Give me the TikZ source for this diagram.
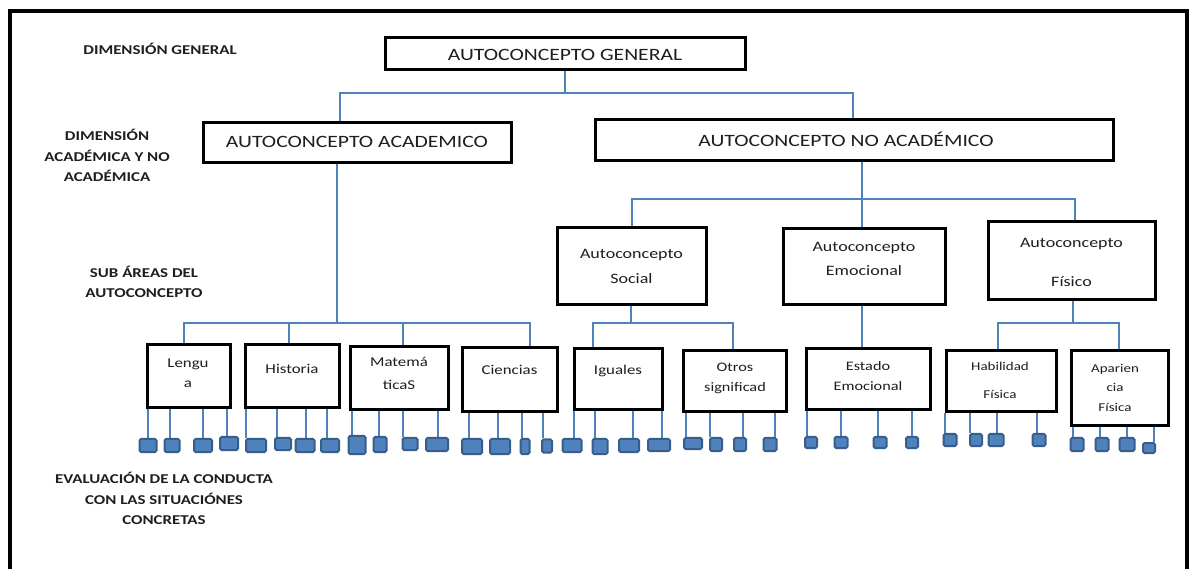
\documentclass[tikz,border=0pt]{standalone}
\usepackage{fontspec}
\setmainfont{Carlito}[FakeStretch=1.25]
\usetikzlibrary{calc}
\definecolor{linkblue}{RGB}{79,129,189}
\definecolor{leafborder}{RGB}{56,93,138}
\definecolor{txt}{RGB}{30,30,30}
\newcommand\fsz[2]{\fontsize{#1}{#2}\selectfont}
\pgfdeclarelayer{bg}
\pgfsetlayers{bg,main}
\begin{document}
\begin{tikzpicture}[x=1pt,y=-1pt,
  box/.style={draw=black, line width=3pt, fill=white, inner sep=0pt},
  conn/.style={draw=linkblue, line width=1.6pt},
  leaf/.style={draw=leafborder, fill=linkblue, line width=2pt, rounded corners=1.5pt, inner sep=0pt},
  lbl/.style={font=\bfseries\fsz{13.5}{20.5}, text=txt, align=center, inner sep=0pt},
  tx/.style={text=txt, align=center, inner sep=0pt}]
\useasboundingbox (0,0) rectangle (1195,569);
\draw[line width=4.5pt] (10,569) -- (10,11) -- (1187,11) -- (1187,569);

% left labels
\node[lbl] (l1) at (160,49) {DIMENSIÓN GENERAL};
\node[lbl] (l2) at (107,155.5) {DIMENSIÓN\\ACADÉMICA Y NO\\ACADÉMICA};
\node[lbl] (l3) at (144,282) {SUB ÁREAS DEL\\AUTOCONCEPTO};
\node[lbl] (l4) at (164,498.5) {EVALUACIÓN DE LA CONDUCTA\\CON LAS SITUACIÓNES\\CONCRETAS};

% main boxes
\node[box, minimum width=360pt, minimum height=32pt] (gen) at (565,54) {};
\node[tx, font=\fsz{17.3}{20}] (genT) at (565,55) {AUTOCONCEPTO GENERAL};
\node[box, minimum width=308pt, minimum height=40pt] (acad) at (357,143) {};
\node[tx, font=\fsz{17.3}{20}] (acadT) at (357,142) {AUTOCONCEPTO ACADEMICO};
\node[box, minimum width=518pt, minimum height=41pt] (noacad) at (854,140.5) {};
\node[tx, font=\fsz{17.3}{20}] (noacadT) at (846,139) {AUTOCONCEPTO NO ACADÉMICO};

\node[box, minimum width=149pt, minimum height=77pt] (social) at (631.5,266.5) {};
\node[tx, font=\fsz{14.4}{25}] (socialT) at (631.5,266.5) {Autoconcepto\\Social};
\node[box, minimum width=162pt, minimum height=76pt] (emoc) at (864,267) {};
\node[tx, font=\fsz{14.4}{24}] (emocT) at (864,259) {Autoconcepto\\Emocional};
\node[box, minimum width=167pt, minimum height=78pt] (fis) at (1071.5,261) {};
\node[tx, font=\fsz{14.4}{39}] (fisT) at (1071.5,262.5) {Autoconcepto\\Físico};

% sub-area boxes
\node[box, minimum width=83pt, minimum height=63pt] (lengua) at (188.5,376.5) {};
\node[tx, font=\fsz{13.5}{20}] (lenguaT) at (188,373) {Lengu\\a};
\node[box, minimum width=94pt, minimum height=63pt] (hist) at (292,376.5) {};
\node[tx, font=\fsz{13.5}{20}] (histT) at (292,369) {Historia};
\node[box, minimum width=98pt, minimum height=63pt] (mat) at (399,378.5) {};
\node[tx, font=\fsz{13.5}{23}] (matT) at (399,373.5) {Matemá\\ticaS};
\node[box, minimum width=95pt, minimum height=64pt] (cien) at (509.5,380) {};
\node[tx, font=\fsz{13.5}{20}] (cienT) at (509.5,370) {Ciencias};
\node[box, minimum width=88pt, minimum height=61pt] (igu) at (618,379.5) {};
\node[tx, font=\fsz{13.5}{20}] (iguT) at (618,371) {Iguales};
\node[box, minimum width=103pt, minimum height=61pt] (otros) at (734.5,381.5) {};
\node[tx, font=\fsz{13}{20}] (otrosT) at (735,378) {Otros\\significad};
\node[box, minimum width=124pt, minimum height=61pt] (estado) at (868,379.5) {};
\node[tx, font=\fsz{13}{20}] (estadoT) at (868,376) {Estado\\Emocional};
\node[box, minimum width=110pt, minimum height=61pt] (habil) at (1001,381.5) {};
\node[tx, font=\fsz{12}{28}] (habilT) at (1000,380) {Habilidad\\Física};
\node[box, minimum width=97pt, minimum height=75pt] (apar) at (1119.5,388.5) {};
\node[tx, font=\fsz{12}{19.5}] (aparT) at (1115,387.5) {Aparien\\cia\\Física};

% junction coordinates
\coordinate (j1) at (340,93);
\coordinate (j2) at (853,93);
\coordinate (ka) at (337,323);
\coordinate (k1) at (184,323);
\coordinate (kh) at (289,323);
\coordinate (km) at (403,323);
\coordinate (k2) at (530,323);
\coordinate (n0) at (862,199);
\coordinate (n1) at (632,199);
\coordinate (n3) at (1075,199);
\coordinate (s0) at (631,323);
\coordinate (s1) at (593,323);
\coordinate (s2) at (733,323);
\coordinate (f0) at (1073,323);
\coordinate (f1) at (998,323);
\coordinate (f2) at (1119,323);

\begin{pgfonlayer}{bg}
\draw[conn] (gen.south) -- (gen.south |- j1);
\draw[conn] (acad.north -| j1) -- (j1) -- (j2) -- (noacad.north -| j2);
\draw[conn] (acad.south -| ka) -- (ka);
\draw[conn] (lengua.north -| k1) -- (k1) -- (k2) -- (cien.north -| k2);
\draw[conn] (kh) -- (hist.north -| kh);
\draw[conn] (km) -- (mat.north -| km);
\draw[conn] (noacad.south -| n0) -- (n0);
\draw[conn] (social.north -| n1) -- (n1) -- (n3) -- (fis.north -| n3);
\draw[conn] (n0) -- (emoc.north -| n0);
\draw[conn] (social.south -| s0) -- (s0);
\draw[conn] (igu.north -| s1) -- (s1) -- (s2) -- (otros.north -| s2);
\draw[conn] (emoc.south -| n0) -- (estado.north -| n0);
\draw[conn] (fis.south -| f0) -- (f0);
\draw[conn] (habil.north -| f1) -- (f1) -- (f2) -- (apar.north -| f2);
\end{pgfonlayer}

% leaf squares
\foreach \b/\n/\cx/\cy/\w/\h/\dx in {
  lengua/L1/148/445.5/17/13/0, lengua/L2/172/445.5/15/13/-2, lengua/L3/203/445.5/18/13/0, lengua/L4/229/443.5/18/13/-2,
  hist/H1/256/445.5/20/13/-10, hist/H2/283/444/16/12/-6, hist/H3/305/445.5/19/13/1, hist/H4/330/445.5/18/13/-3,
  mat/M1/357/445/17/18/-5, mat/M2/380/444.5/13/15/-1, mat/M3/410/444/15/12/-7, mat/M4/437/444.5/22/13/1,
  cien/C1/472/446.5/20/15/-3, cien/C2/500/446.5/20/15/-2, cien/C3/525/446.5/9/15/-3, cien/C4/547/446/10/13/-4,
  igu/I1/572/445.5/19/13/2, igu/I2/600/446.5/15/15/-5, igu/I3/629/445.5/20/13/4, igu/I4/659/445/22/12/3,
  otros/O1/693/443.5/18/11/-7, otros/O2/716/444.5/12/13/-6, otros/O3/740/444.5/12/13/3, otros/O4/770/444.5/13/13/5,
  estado/E1/811/442.5/12/11/-4, estado/E2/841/442.5/13/11/0, estado/E3/880/442.5/13/11/-2, estado/E4/912/442.5/12/11/0,
  habil/F1/950/440/13/12/-5, habil/F2/976/440/12/12/-6, habil/F3/996/440/15/12/1, habil/F4/1039/440/13/12/-2,
  apar/P1/1077/444.5/13/13/-4, apar/P2/1102/444.5/13/13/-2, apar/P3/1127/444.5/15/13/0, apar/P4/1149/448/12/10/5}
{
  \node[leaf, minimum width=\w pt, minimum height=\h pt] (\n) at (\cx,\cy) {};
  \begin{pgfonlayer}{bg}
  \draw[conn] ([xshift=\dx pt]\n.north |- \b.south) -- ([xshift=\dx pt]\n.north);
  \end{pgfonlayer}
}
\end{tikzpicture}
\end{document}
